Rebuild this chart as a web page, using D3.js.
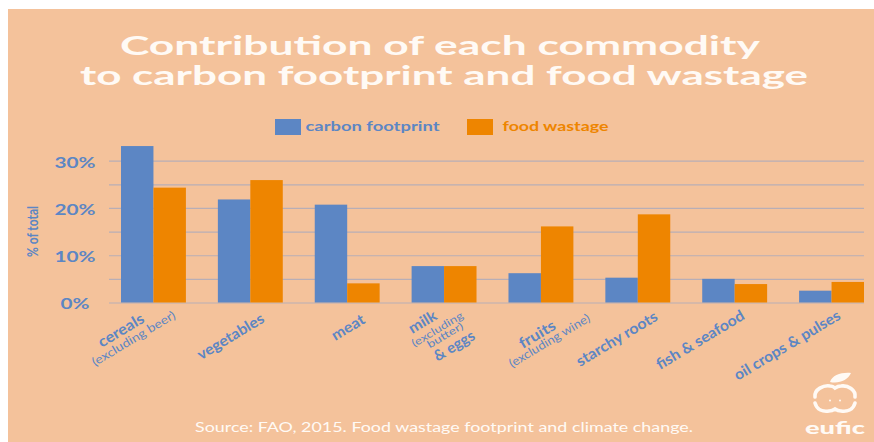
<!DOCTYPE html>
<html>
<head>
<meta charset="utf-8">
<title>Contribution of each commodity to carbon footprint and food wastage</title>
<script src="https://cdn.jsdelivr.net/npm/d3@7/dist/d3.min.js"></script>
<style>
  html, body { margin: 0; padding: 0; background: #fff; }
  svg { display: block; }
  text { font-family: Lato, "Open Sans", sans-serif; }
</style>
</head>
<body>
<svg id="chart" width="874" height="442"></svg>
<script>
// Commodities in plotted order
const categories = ["cereals", "vegetables", "meat", "milk", "fruits", "starchy roots", "fish & seafood", "oil crops & pulses"];
// Every line of each slanted label; qualifiers in brackets are set smaller
const categoryLabels = [
  ["cereals", "(excluding beer)"],
  ["vegetables"],
  ["meat"],
  ["milk", "(excluding", "butter)", "& eggs"],
  ["fruits", "(excluding wine)"],
  ["starchy roots"],
  ["fish & seafood"],
  ["oil crops & pulses"]
];

// Share of the total, in percent
const carbonFootprint = [33.1, 21.8, 20.7, 7.7, 6.2, 5.25, 5.0, 2.5];
const foodWastage = [24.3, 25.9, 4.05, 7.7, 16.1, 18.65, 3.9, 4.35];

const seriesNames = ["carbon footprint", "food wastage"];
const tickValues = [0, 5, 10, 15, 20, 25, 30];
const labelledTicks = [0, 10, 20, 30];

const titleLines = ["Contribution of each commodity", "to carbon footprint and food wastage"];
const sourceNote = "Source: FAO, 2015. Food wastage footprint and climate change.";

const BLUE = "#5c86c4", ORANGE = "#ee8500", PEACH = "#f4c29b", GRID = "#b8aeb6", WHITE = "#fffaf5";

const svg = d3.select("#chart");

svg.append("rect").attr("x", 8).attr("y", 9).attr("width", 866).attr("height", 433).attr("fill", PEACH);

// Wide display lettering: fit each string to a set length
function fitted(sel, length) {
  return sel.attr("textLength", length).attr("lengthAdjust", "spacingAndGlyphs");
}

fitted(svg.append("text").attr("x", 120).attr("y", 55).attr("font-size", 27).attr("font-weight", 700)
  .attr("fill", WHITE).text(titleLines[0]), 640);
fitted(svg.append("text").attr("x", 80).attr("y", 85).attr("font-size", 27).attr("font-weight", 700)
  .attr("fill", WHITE).text(titleLines[1]), 728);

const x = d3.scaleBand().domain(categories).range([121, 864]).paddingInner(0.33).paddingOuter(0);
const xInner = d3.scaleBand().domain(seriesNames).range([0, x.bandwidth()]);
const y = d3.scaleLinear().domain([0, 30]).range([302.5, 160.7]);

// Horizontal rules and percent labels
const yAxis = d3.axisLeft(y).tickValues(tickValues).tickSize(755)
  .tickFormat(d => labelledTicks.includes(d) ? d + "%" : "");
const axisG = svg.append("g").attr("transform", "translate(864,0)").call(yAxis);
axisG.select(".domain").remove();
axisG.selectAll(".tick line").attr("stroke", GRID).attr("stroke-width", 1.2);
axisG.selectAll(".tick text")
  .attr("x", -789).attr("dy", "0.4em").attr("text-anchor", "middle")
  .attr("fill", BLUE).attr("font-size", 16).attr("font-weight", 700)
  .style("font-family", "Lato, sans-serif")
  .each(function (d) { if (labelledTicks.includes(d)) fitted(d3.select(this), d === 0 ? 29 : 41); });

// Paired bars per commodity
const series = [
  { name: seriesNames[0], values: carbonFootprint, color: BLUE },
  { name: seriesNames[1], values: foodWastage, color: ORANGE }
];
svg.append("g").selectAll("g").data(series).join("g")
  .attr("fill", d => d.color)
  .selectAll("rect")
  .data(d => d.values.map((v, i) => ({ name: d.name, category: categories[i], v })))
  .join("rect")
  .attr("x", d => x(d.category) + xInner(d.name))
  .attr("y", d => y(d.v))
  .attr("width", xInner.bandwidth())
  .attr("height", d => y(0) - y(d.v));

// Slanted labels: each line's right end relative to the group centre and the
// zero line, plus the run length along the slant
const labelAngle = -31;
const labelPlacement = [
  [[-8, 19, 51], [23, 15, 95]],
  [[15, 19, 75]],
  [[19, 20, 36]],
  [[-6, 16, 30], [20, 15, 58], [20, 25.5, 40], [32, 36, 45]],
  [[16, 26, 40], [50, 18, 92]],
  [[21, 17, 92]],
  [[11, 16, 100]],
  [[10, 16, 121]]
];
const stackedQualifiers = new Set(["(excluding", "butter)"]);
categories.forEach((c, i) => {
  const cx = x(c) + x.bandwidth() / 2;
  categoryLabels[i].forEach((line, k) => {
    const [dx, dy, run] = labelPlacement[i][k];
    const small = line.startsWith("(");
    const size = stackedQualifiers.has(line) ? 10.5 : (small ? 12 : 15);
    fitted(svg.append("text")
      .attr("transform", `translate(${cx + dx},${y(0) + dy}) rotate(${labelAngle})`)
      .attr("text-anchor", "end").attr("fill", BLUE)
      .attr("font-size", size).attr("font-weight", small || line === "butter)" ? 400 : 700)
      .text(line), run);
  });
});

// Vertical axis caption
fitted(svg.append("text").attr("transform", "translate(38,257) rotate(-90)")
  .attr("font-size", 16).attr("font-weight", 700).attr("fill", BLUE).text("% of total"), 51);

// Legend
const legendRects = [275, 467], legendTexts = [305.5, 502.5], legendLengths = [134, 106];
series.forEach((s, i) => {
  svg.append("rect").attr("x", legendRects[i]).attr("y", 119).attr("width", 26).attr("height", 16).attr("fill", s.color);
  fitted(svg.append("text").attr("x", legendTexts[i]).attr("y", 130.5).attr("font-size", 13).attr("font-weight", 700)
    .attr("fill", s.color).text(s.name), legendLengths[i]);
});

// Source line
fitted(svg.append("text").attr("x", 195).attr("y", 432).attr("font-size", 12.5).attr("fill", WHITE).text(sourceNote), 498);

// Apple emblem and wordmark
const logo = svg.append("g").attr("fill", "none").attr("stroke", WHITE).attr("stroke-linecap", "round");
logo.append("path").attr("fill", WHITE).attr("stroke", "none")
  .attr("d", "M830 382 C832 375 842 372 851 373 C848 380 839 384 830 382 Z");
logo.append("path").attr("stroke-width", 3.6)
  .attr("d", "M815 397 C814 389 824 385 830 386 C833 386 835 388 835 388 C835 388 838 386 841 386 C848 385 856 390 855 397");
logo.append("path").attr("stroke-width", 3.6)
  .attr("d", "M815 403 C817 410 823 412 829 411 C832 411 835 409 835 409 C835 409 838 411 841 411 C847 412 853 410 855 403");
logo.append("g").attr("fill", WHITE).attr("stroke", "none").selectAll("circle").data([830, 840]).join("circle")
  .attr("cx", d => d).attr("cy", 400.5).attr("r", 1);
fitted(svg.append("text").attr("x", 805).attr("y", 434).attr("font-size", 17).attr("font-weight", 900)
  .attr("fill", WHITE).text("eufic"), 60);
</script>
</body>
</html>
